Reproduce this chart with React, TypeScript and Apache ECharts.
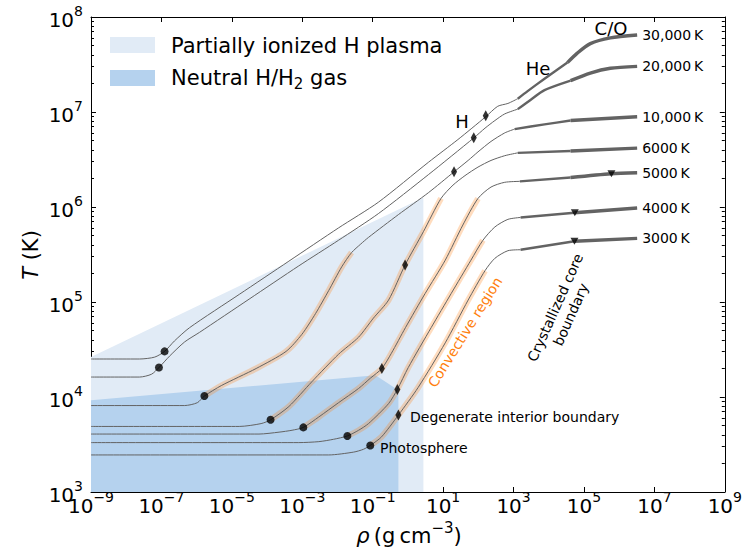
import React, { useEffect, useRef } from 'react';
import * as echarts from 'echarts';

const FONT = "'DejaVu Sans', 'Liberation Sans', sans-serif";

// Each curve: [log10(rho / g cm^-3), log10(T / K)]
const curveNames = ['30,000\u2009K', '20,000\u2009K', '10,000\u2009K', '6000\u2009K', '5000\u2009K', '4000\u2009K', '3000\u2009K'];

const curve30000K = [[-9, 4.40], [-7.62, 4.40], [-7.19, 4.42], [-6.91, 4.48], [-6.63, 4.59], [-6.20, 4.73], [-4.79, 5.08], [-3.38, 5.43], [-1.97, 5.78], [-0.84, 6.05], [0.58, 6.47], [1.42, 6.71], [2.21, 6.95], [2.55, 7.06], [2.84, 7.09], [3.12, 7.14], [3.40, 7.22], [3.88, 7.35], [4.53, 7.52], [4.81, 7.62], [5.18, 7.72], [5.75, 7.78], [6.51, 7.81]];
const curve20000K = [[-9, 4.21], [-7.62, 4.21], [-7.28, 4.24], [-7.07, 4.31], [-6.77, 4.43], [-6.34, 4.58], [-5.92, 4.68], [-4.51, 5.03], [-3.10, 5.38], [-1.97, 5.65], [-0.84, 5.93], [0.58, 6.34], [1.88, 6.73], [2.19, 6.83], [2.47, 6.91], [2.75, 6.98], [3.12, 7.03], [3.49, 7.13], [3.88, 7.23], [4.62, 7.33], [5.18, 7.41], [5.75, 7.46], [6.51, 7.48]];
const curve10000K = [[-9, 3.91], [-6.34, 3.91], [-5.98, 3.94], [-5.78, 4.01], [-5.30, 4.12], [-4.31, 4.30], [-3.46, 4.48], [-3.01, 4.66], [-2.62, 4.88], [-2.25, 5.12], [-1.88, 5.37], [-1.60, 5.52], [-1.34, 5.61], [-1.12, 5.68], [-0.27, 5.92], [0.58, 6.15], [1.31, 6.37], [1.71, 6.49], [1.99, 6.58], [2.36, 6.69], [2.75, 6.78], [3.03, 6.82], [3.88, 6.87], [4.62, 6.91], [6.51, 6.95]];
const curve6000K = [[-9, 3.69], [-4.79, 3.69], [-4.17, 3.72], [-3.90, 3.76], [-3.38, 3.90], [-2.73, 4.16], [-1.97, 4.45], [-1.40, 4.63], [-0.98, 4.83], [-0.55, 5.02], [-0.08, 5.39], [0.44, 5.74], [0.94, 6.09], [1.28, 6.23], [1.62, 6.33], [1.99, 6.42], [2.36, 6.49], [2.75, 6.54], [3.12, 6.57], [4.62, 6.59], [6.51, 6.62]];
const curve5000K = [[-9, 3.61], [-4.23, 3.61], [-3.66, 3.63], [-3.29, 3.65], [-2.97, 3.68], [-2.53, 3.79], [-1.97, 3.94], [-1.40, 4.09], [-1.06, 4.20], [-0.74, 4.30], [-0.47, 4.46], [-0.07, 4.73], [0.49, 5.09], [1.06, 5.44], [1.56, 5.81], [1.99, 6.09], [2.36, 6.21], [2.75, 6.26], [3.18, 6.27], [4.62, 6.31], [5.77, 6.35], [6.51, 6.36]];
const curve4000K = [[-9, 3.52], [-3.10, 3.52], [-2.53, 3.53], [-2.11, 3.555], [-1.72, 3.59], [-1.40, 3.65], [-1.12, 3.72], [-0.55, 3.93], [-0.30, 4.08], [0.01, 4.31], [0.66, 4.73], [1.23, 5.09], [1.79, 5.44], [2.13, 5.65], [2.47, 5.79], [2.84, 5.87], [3.20, 5.89], [4.73, 5.94], [6.51, 5.99]];
const curve3000K = [[-9, 3.39], [-2.25, 3.39], [-1.54, 3.42], [-1.26, 3.45], [-1.07, 3.49], [-0.75, 3.58], [-0.27, 3.81], [0.29, 4.10], [1.06, 4.57], [1.71, 5.02], [2.19, 5.33], [2.47, 5.46], [2.84, 5.54], [3.20, 5.55], [4.73, 5.64], [6.51, 5.67]];

const curves = [curve30000K, curve20000K, curve10000K, curve6000K, curve5000K, curve4000K, curve3000K];

// convective zone extent in log10(rho) for each curve (null = none)
const convectiveStart = [null, null, -5.78, -3.90, -2.97, -1.72, -1.07];
const convectiveEnd = [null, null, -1.60, 0.94, 1.99, 2.13, 2.19];
// composition layers (log10 rho where He layer / C-O core begin)
const heliumLayerStart = 3.0;
const carbonOxygenCoreStart = 4.5;

const photosphere = [[-6.91, 4.48], [-7.07, 4.31], [-5.78, 4.01], [-3.90, 3.76], [-2.97, 3.68], [-1.72, 3.59], [-1.07, 3.49]];
const degenerateBoundary = [[2.21, 6.96], [1.87, 6.73], [1.31, 6.37], [-0.08, 5.39], [-0.74, 4.30], [-0.30, 4.08], [-0.27, 3.81]];
const crystallizedBoundary = [[5.78, 6.35], [4.74, 5.94], [4.73, 5.64]];

const ionizedRegion = [[-9, 4.42], [0.44, 6.10], [0.44, 3], [-9, 3]];
const neutralRegion = [[-9, 3.965], [-0.92, 4.23], [-0.27, 4.07], [-0.27, 3], [-9, 3]];

const xTickValues = [-9, -7, -5, -3, -1, 1, 3, 5, 7, 9];
const yTickValues = [3, 4, 5, 6, 7, 8];

const yMinorTicks: number[] = [];
for (let n = 3; n < 8; n++) for (let k = 2; k <= 9; k++) yMinorTicks.push(n + Math.log10(k));

const LINE_COLOR = '#636363';
const HALO_COLOR = 'rgba(255,127,14,0.27)';

const supText = (v: number) => {
  const r = Math.round(v);
  return r < 0 ? '\u2212' + Math.abs(r) : String(r);
};
const powRich = {
  b: { fontSize: 20, fontFamily: FONT, color: '#000', lineHeight: 26, verticalAlign: 'bottom' },
  s: { fontSize: 14, fontFamily: FONT, color: '#000', lineHeight: 14, verticalAlign: 'top' },
};
const powFormatter = (v: number) => `{b|10}{s|${supText(v)}}`;

function polygonSeries(points: number[][], fill: string, z: number) {
  return {
    type: 'custom',
    xAxisIndex: 0,
    yAxisIndex: 0,
    silent: true,
    z,
    data: [[points[0][0], points[0][1]]],
    encode: { x: 0, y: 1 },
    renderItem: (_params: any, api: any) => ({
      type: 'polygon',
      shape: { points: points.map((p) => api.coord(p)) },
      style: { fill, stroke: null },
    }),
  };
}

function lineSeries(data: number[][], width: number, color: string, z: number, extra: any = {}) {
  return {
    type: 'line',
    xAxisIndex: 0,
    yAxisIndex: 0,
    data,
    symbol: 'none',
    smooth: 0.25,
    silent: true,
    z,
    lineStyle: { width, color, cap: 'butt', join: 'round' },
    ...extra,
  };
}

function buildOption() {
  const series: any[] = [];
  series.push(polygonSeries(ionizedRegion, '#e1ebf6', 1));
  series.push(polygonSeries(neutralRegion, '#b5d2ee', 1));

  curves.forEach((pts, i) => {
    const cs = convectiveStart[i];
    const ce = convectiveEnd[i];
    if (cs !== null && ce !== null) {
      const seg = pts.filter((p) => p[0] >= cs - 1e-6 && p[0] <= ce + 1e-6);
      series.push(lineSeries(seg, 6, HALO_COLOR, 2));
    }
    const i1 = pts.findIndex((p) => p[0] >= heliumLayerStart);
    const i2 = pts.findIndex((p) => p[0] >= carbonOxygenCoreStart);
    series.push(lineSeries(pts.slice(0, i1 + 1), 1, LINE_COLOR, 3));
    series.push(lineSeries(pts.slice(i1, i2 + 1), 2.4, LINE_COLOR, 3));
    series.push(
      lineSeries(pts.slice(i2), 3.4, LINE_COLOR, 3, {
        endLabel: {
          show: true,
          formatter: () => curveNames[i],
          color: '#000',
          fontSize: 14,
          fontFamily: FONT,
          distance: 5,
        },
      })
    );
  });

  series.push({
    type: 'scatter', xAxisIndex: 0, yAxisIndex: 0, data: photosphere, symbol: 'circle', symbolSize: 8,
    itemStyle: { color: '#000' }, silent: true, z: 5,
  });
  series.push({
    type: 'scatter', xAxisIndex: 0, yAxisIndex: 0, data: degenerateBoundary, symbol: 'diamond', symbolSize: [6, 11],
    itemStyle: { color: '#000' }, silent: true, z: 5,
  });
  series.push({
    type: 'scatter', xAxisIndex: 0, yAxisIndex: 0, data: crystallizedBoundary, symbol: 'triangle', symbolRotate: 180,
    symbolSize: [8, 7], itemStyle: { color: '#000' }, silent: true, z: 5,
  });

  const axisLineStyle = { show: true, onZero: false, lineStyle: { color: '#000', width: 1 } };
  const tickStyle = { color: '#000', width: 1 };

  const txt = (text: string, x: number, y: number, fontSize: number, extra: any = {}, styleExtra: any = {}) => ({
    type: 'text',
    x,
    y,
    z: 100,
    silent: true,
    ...extra,
    style: {
      text,
      fill: '#000',
      fontSize,
      fontFamily: FONT,
      textAlign: 'left',
      textVerticalAlign: 'middle',
      align: 'left',
      verticalAlign: 'middle',
      ...styleExtra,
    },
  });

  const graphic: any[] = [
    { type: 'rect', shape: { x: 110, y: 37, width: 45, height: 16 }, style: { fill: '#e1ebf6' }, z: 100 },
    { type: 'rect', shape: { x: 110, y: 70, width: 45, height: 16 }, style: { fill: '#b5d2ee' }, z: 100 },
    txt('Partially ionized H plasma', 171, 46, 21),
    txt('{n|Neutral H/H}{sub|2}{n| gas}', 171, 79, 21, {}, {
      rich: {
        n: { fontSize: 21, fontFamily: FONT, fill: '#000', lineHeight: 24, verticalAlign: 'top' },
        sub: { fontSize: 15, fontFamily: FONT, fill: '#000', lineHeight: 15, verticalAlign: 'bottom' },
      },
    }),
    txt('H', 462, 121, 18, {}, { textAlign: 'center', align: 'center' }),
    txt('He', 538, 68, 18, {}, { textAlign: 'center', align: 'center' }),
    txt('C/O', 611, 28, 18, {}, { textAlign: 'center', align: 'center' }),
    txt('Photosphere', 380, 448, 14),
    txt('Degenerate interior boundary', 410, 417, 14),
    txt('Convective region', 465, 332, 14, { rotation: (58 * Math.PI) / 180 }, { textAlign: 'center', align: 'center', fill: '#ff7f0e' }),
    txt('Crystallized core\nboundary', 563, 311, 14, { rotation: (66 * Math.PI) / 180 }, { textAlign: 'center', align: 'center', lineHeight: 17 }),
    {
      type: 'text', x: 31, y: 255, rotation: Math.PI / 2, z: 100, silent: true,
      style: {
        text: '{i|T} (K)', fontSize: 21, fontFamily: FONT, fill: '#000',
        textAlign: 'center', align: 'center', textVerticalAlign: 'middle', verticalAlign: 'middle',
        rich: { i: { fontSize: 21, fontFamily: FONT, fontStyle: 'italic', fill: '#000' } },
      },
    },
    {
      type: 'text', x: 409, y: 533, z: 100, silent: true,
      style: {
        text: '{i|\u03c1}{n|\u2009(g\u2009cm}{s|\u22123}{n|)}', fontSize: 21, fontFamily: FONT, fill: '#000',
        textAlign: 'center', align: 'center', textVerticalAlign: 'middle', verticalAlign: 'middle',
        rich: {
          i: { fontSize: 21, fontFamily: FONT, fontStyle: 'italic', fill: '#000', lineHeight: 26, verticalAlign: 'bottom' },
          n: { fontSize: 21, fontFamily: FONT, fill: '#000', lineHeight: 26, verticalAlign: 'bottom' },
          s: { fontSize: 15, fontFamily: FONT, fill: '#000', lineHeight: 15, verticalAlign: 'top' },
        },
      },
    },
  ];

  return {
    animation: false,
    backgroundColor: '#ffffff',
    grid: { left: 91, right: 17, top: 17, bottom: 60, containLabel: false },
    xAxis: [
      {
        type: 'value', min: -9, max: 9, position: 'bottom',
        axisLine: axisLineStyle,
        axisTick: { show: true, inside: true, length: 5, customValues: xTickValues, lineStyle: tickStyle },
        axisLabel: { show: true, customValues: xTickValues, formatter: powFormatter, rich: powRich, margin: -2 },
        splitLine: { show: false },
      },
      {
        type: 'value', min: -9, max: 9, position: 'top',
        axisLine: axisLineStyle,
        axisTick: { show: true, inside: true, length: 5, customValues: xTickValues, lineStyle: tickStyle },
        axisLabel: { show: false },
        splitLine: { show: false },
      },
    ],
    yAxis: [
      {
        type: 'value', min: 3, max: 8, interval: 1, position: 'left',
        axisLine: axisLineStyle,
        axisTick: { show: true, inside: true, length: 5, lineStyle: tickStyle },
        axisLabel: { show: true, formatter: powFormatter, rich: powRich, margin: 8 },
        splitLine: { show: false },
      },
      {
        type: 'value', min: 3, max: 8, position: 'left',
        axisLine: { show: false, onZero: false },
        axisTick: { show: true, inside: true, length: 3, customValues: yMinorTicks, lineStyle: tickStyle },
        axisLabel: { show: false },
        splitLine: { show: false },
      },
      {
        type: 'value', min: 3, max: 8, position: 'right',
        axisLine: axisLineStyle,
        axisTick: { show: true, inside: true, length: 5, customValues: yTickValues, lineStyle: tickStyle },
        axisLabel: { show: false },
        splitLine: { show: false },
      },
      {
        type: 'value', min: 3, max: 8, position: 'right',
        axisLine: { show: false, onZero: false },
        axisTick: { show: true, inside: true, length: 3, customValues: yMinorTicks, lineStyle: tickStyle },
        axisLabel: { show: false },
        splitLine: { show: false },
      },
    ],
    series,
    graphic,
  };
}

export default function App() {
  const ref = useRef<HTMLDivElement>(null);
  useEffect(() => {
    document.body.style.margin = '0';
    if (!ref.current) return;
    const chart = echarts.init(ref.current, null, { renderer: 'svg' });
    chart.setOption(buildOption() as any);
    return () => chart.dispose();
  }, []);
  return <div ref={ref} style={{ width: 745, height: 552 }} />;
}
